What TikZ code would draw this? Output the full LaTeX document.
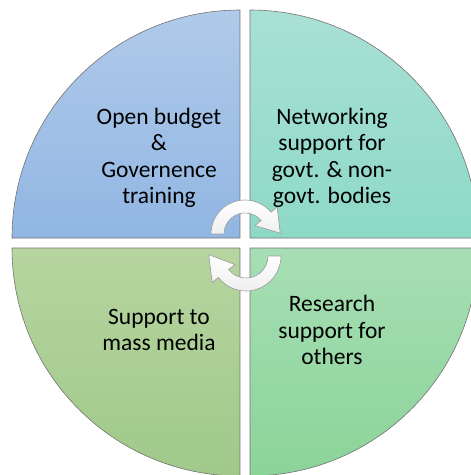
\documentclass[tikz,border=0pt]{standalone}
\usepackage{fontspec}
\setmainfont{Carlito}
\usetikzlibrary{calc}
\begin{document}
\begin{tikzpicture}[x=1pt,y=-1pt,
  quad/.style={draw=black!55, line width=0.6pt},
  lbl/.style={align=center, font=\fontsize{23.5}{26.5}\selectfont, text=black},
  carrow/.style={draw=black!40, line width=0.6pt, top color=white, bottom color=blue!4!gray!12}]
\useasboundingbox (0,0) rectangle (471,475);
\clip (0,0) rectangle (471,475);
% quadrants
\path[quad, top color={rgb,255:red,176;green,202;blue,233}, bottom color={rgb,255:red,145;green,182;blue,227}]
  (240,238) -- (12,238) arc (180:270:228) -- cycle;
\path[quad, top color={rgb,255:red,169;green,224;blue,214}, bottom color={rgb,255:red,141;green,217;blue,198}]
  (250,238) -- (250,10) arc (270:360:228) -- cycle;
\path[quad, top color={rgb,255:red,182;green,213;blue,160}, bottom color={rgb,255:red,160;green,201;blue,138}]
  (240,248) -- (240,476) arc (90:180:228) -- cycle;
\path[quad, top color={rgb,255:red,167;green,222;blue,181}, bottom color={rgb,255:red,139;green,212;blue,152}]
  (250,248) -- (478,248) arc (0:90:228) -- cycle;
% labels
\node[lbl] (tl) at (159,158) {Open budget\\\&\\Governence\\training};
\node[lbl] (tr) at (332,158) {Networking\\support for\\govt. \& non-\\govt. bodies};
\node[lbl] (bl) at (159,330) {Support to\\mass media};
\node[lbl] (br) at (332,330) {Research\\support for\\others};
% circular arrows
\begin{scope}[shift={(245,234)}]
  \path[carrow] (180:34) arc (180:320:34) -- (320:42) -- ($(320:27.5)+(0.643*22,0.766*22)$) -- (320:13) -- (320:21) arc (320:180:21) -- cycle;
\end{scope}
\begin{scope}[shift={(246,256)}]
  \path[carrow] (0:35) arc (0:142:35) -- (142:43) -- ($(142:28.5)+(-0.616*24,-0.788*24)$) -- (142:14) -- (142:22) arc (142:0:22) -- cycle;
\end{scope}
\end{tikzpicture}
\end{document}
